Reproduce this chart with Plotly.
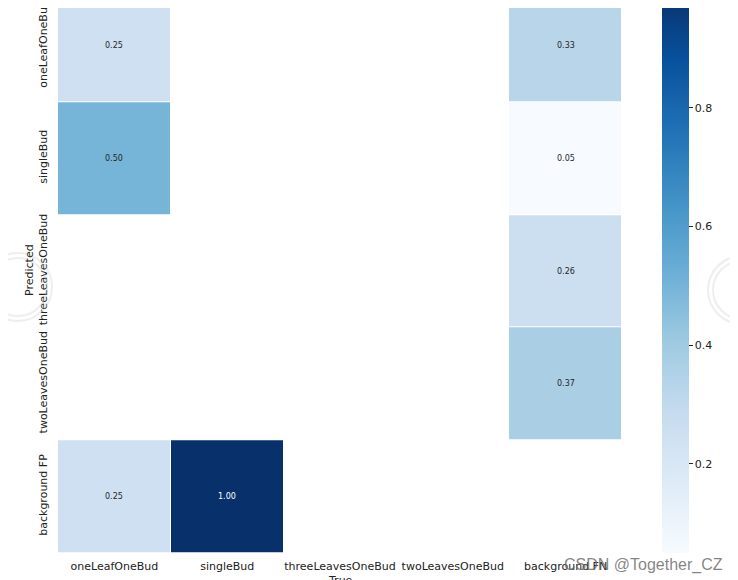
import plotly.graph_objects as go
import numpy as np

true_labels = ["oneLeafOneBud", "singleBud", "threeLeavesOneBud", "twoLeavesOneBud", "background FN"]
pred_labels = ["oneLeafOneBud", "singleBud", "threeLeavesOneBud", "twoLeavesOneBud", "background FP"]

row_oneLeafOneBud = [0.25, None, None, None, 0.33]
row_singleBud = [0.50, None, None, None, 0.05]
row_threeLeavesOneBud = [None, None, None, None, 0.26]
row_twoLeavesOneBud = [None, None, None, None, 0.37]
row_backgroundFP = [0.25, 1.00, None, None, None]

matrix = [row_oneLeafOneBud, row_singleBud, row_threeLeavesOneBud, row_twoLeavesOneBud, row_backgroundFP]
cbar_ticks = [0.2, 0.4, 0.6, 0.8]

blues = ['rgb(247,251,255)', 'rgb(222,235,247)', 'rgb(198,219,239)', 'rgb(158,202,225)',
         'rgb(107,174,214)', 'rgb(66,146,198)', 'rgb(33,113,181)', 'rgb(8,81,156)', 'rgb(8,48,107)']
cscale = [[i / (len(blues) - 1), c] for i, c in enumerate(blues)]

z = np.array([[np.nan if v is None else v for v in r] for r in matrix], dtype=float)
zmin = float(np.nanmin(z))
zmax = float(np.nanmax(z))

OFF = 8  # page body margin
W, H = 738 - OFF, 580 - OFF
L, R, T, B = 58 - OFF, 116, 0, 27
pw, ph = W - L - R, H - T - B
cell_h = 112.75
top_cut = (cell_h * 5 - ph) / cell_h  # fraction of top row hidden


def px(x):
    return (x - OFF - L) / pw


def py(y):
    return (ph - (y - OFF)) / ph


font = "DejaVu Sans, Liberation Sans, sans-serif"

fig = go.Figure()
fig.add_trace(go.Heatmap(
    z=z, x=list(range(5)), y=list(range(5)),
    colorscale=cscale, zmin=zmin, zmax=zmax,
    xgap=1, ygap=1, hoverongaps=False,
    colorbar=dict(
        x=px(662), xanchor="left", xpad=0,
        y=0, yanchor="bottom", ypad=0,
        len=(cell_h * 5) / ph, lenmode="fraction",
        thickness=27, outlinewidth=0,
        tickvals=cbar_ticks, ticks="outside", ticklen=4, tickcolor="#222",
        tickfont=dict(family=font, size=11, color="#222"),
    ),
))

annotations = []
for i, r in enumerate(matrix):
    for j, v in enumerate(r):
        if v is None:
            continue
        annotations.append(dict(
            x=j, y=i, xref="x", yref="y", text=f"{v:.2f}", showarrow=False,
            font=dict(family=font, size=8, color="white" if v > 0.6 else "#262626"),
        ))

annotations.append(dict(x=px(29), y=py(270), xref="paper", yref="paper",
                        text="Predicted", textangle=-90, showarrow=False,
                        font=dict(family=font, size=11, color="#222"),
                        xanchor="center", yanchor="middle"))
annotations.append(dict(x=px(340), y=py(580), xref="paper", yref="paper",
                        text="True", showarrow=False,
                        font=dict(family=font, size=11, color="#222"),
                        xanchor="center", yanchor="middle"))
annotations.append(dict(x=px(644), y=py(565), xref="paper", yref="paper",
                        text="CSDN @Together_CZ", showarrow=False,
                        font=dict(family="Liberation Sans, Arial, sans-serif", size=16,
                                  color="rgba(110,110,110,0.85)"),
                        xanchor="center", yanchor="middle"))

shapes = []
for cx, cy, rr in [(18, 287, 34), (18, 287, 29), (742, 290, 34), (742, 290, 29)]:
    shapes.append(dict(type="circle", xref="paper", yref="paper",
                       x0=px(cx - rr), x1=px(cx + rr),
                       y0=py(cy + rr), y1=py(cy - rr),
                       line=dict(color="rgba(200,200,200,0.3)", width=2), layer="above"))

fig.update_layout(
    width=W, height=H,
    margin=dict(l=L, r=R, t=T, b=B, autoexpand=False),
    paper_bgcolor="white", plot_bgcolor="white",
    annotations=annotations, shapes=shapes,
    xaxis=dict(range=[-0.5, 4.5], tickvals=list(range(5)), ticktext=true_labels,
               showgrid=False, zeroline=False, showline=False, ticks="",
               ticklabelstandoff=5, automargin=False, ticklabeloverflow="allow",
               tickfont=dict(family=font, size=11, color="#222")),
    yaxis=dict(range=[4.5, -0.5 + top_cut], tickvals=list(range(5)), ticktext=pred_labels,
               showgrid=False, zeroline=False, showline=False, ticks="",
               tickangle=-90, ticklabelstandoff=8, automargin=False, ticklabeloverflow="allow",
               tickfont=dict(family=font, size=11, color="#222")),
)

fig.write_html("out.html")
